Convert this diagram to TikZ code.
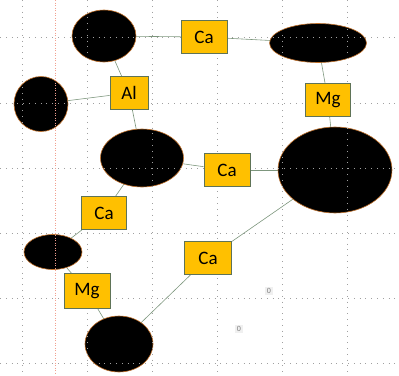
\documentclass[tikz,border=0pt]{standalone}
\usepackage{fontspec}
\setmainfont{Carlito}
\usetikzlibrary{shapes.geometric,backgrounds}
\definecolor{gold}{HTML}{FFC000}
\definecolor{boxline}{HTML}{5F7357}
\definecolor{bondline}{HTML}{7D967D}
\definecolor{rim}{HTML}{C0702A}
\definecolor{gridgray}{HTML}{A0A0A0}
\definecolor{guide}{HTML}{F0A090}

\begin{document}
\begin{tikzpicture}[x=1pt,y=-1pt,
  site/.style={ellipse,fill=black,draw=rim,line width=0.6pt,inner sep=0pt},
  elem/.style={rectangle,fill=gold,draw=boxline,line width=0.9pt,inner sep=0pt,
    minimum width=46pt,minimum height=33pt,font=\fontsize{19}{22}\selectfont},
  bond/.style={draw=bondline,line width=0.6pt},
  tag/.style={fill=gray!12,text=gray,inner sep=1.5pt,font=\fontsize{8}{9}\selectfont}]
\useasboundingbox (0,0) rectangle (399,375);
% sites
\node[site,minimum width=64pt,minimum height=52pt] (e1) at (104,36) {};
\node[site,minimum width=54pt,minimum height=55pt] (e2) at (41,104) {};
\node[site,minimum width=83pt,minimum height=58pt] (e3) at (142,158) {};
\node[site,minimum width=97pt,minimum height=39pt] (e4) at (318,43) {};
\node[site,minimum width=114pt,minimum height=86pt] (e5) at (335,170) {};
\node[site,minimum width=58pt,minimum height=35pt] (e6) at (53,252) {};
\node[site,minimum width=68pt,minimum height=56pt] (e7) at (119,344) {};
% canvas grid
\foreach \g in {22,87,152,217,282,347}
  \draw[gridgray,line width=0.6pt,dash pattern=on 0.8pt off 5pt] (\g,0) -- (\g,375);
\foreach \g in {37,103,168,233,298,363}
  \draw[gridgray,line width=0.6pt,dash pattern=on 0.8pt off 5pt] (0,\g) -- (399,\g);
\draw[guide,line width=0.6pt,dash pattern=on 1pt off 1.5pt] (55,0) -- (55,375);
% elements
\node[elem] (ca1) at (204,37) {Ca};
\node[elem,minimum width=38pt] (al) at (129,93) {Al};
\node[elem,minimum width=45pt] (mg1) at (328,100) {Mg};
\node[elem] (ca2) at (227,170) {Ca};
\node[elem,minimum width=45pt] (ca3) at (104,213) {Ca};
\node[elem,minimum height=35pt] (mg2) at (87,291) {Mg};
\node[elem,minimum width=47pt] (ca4) at (208,258) {Ca};
% bonds
\begin{scope}[on background layer]
\draw[bond] (ca1) -- (e1.center);
\draw[bond] (ca1) -- (e4.center);
\draw[bond] (mg1) -- (e4.center);
\draw[bond] (mg1) -- (e5.center);
\draw[bond] (al) -- (e1.center);
\draw[bond] (al) -- (e2.center);
\draw[bond] (al) -- (e3.center);
\draw[bond] (ca2) -- (e3.center);
\draw[bond] (ca2) -- (e5.center);
\draw[bond] (ca3) -- (e3.center);
\draw[bond] (ca3) -- (e6.center);
\draw[bond] (mg2) -- (e6.center);
\draw[bond] (mg2) -- (e7.center);
\draw[bond] (ca4) -- (e7.center);
\draw[bond] (ca4) -- (e5.center);
\end{scope}
% stray labels
\node[tag] (z1) at (269,291) {0};
\node[tag] (z2) at (239,329) {0};
\end{tikzpicture}
\end{document}
